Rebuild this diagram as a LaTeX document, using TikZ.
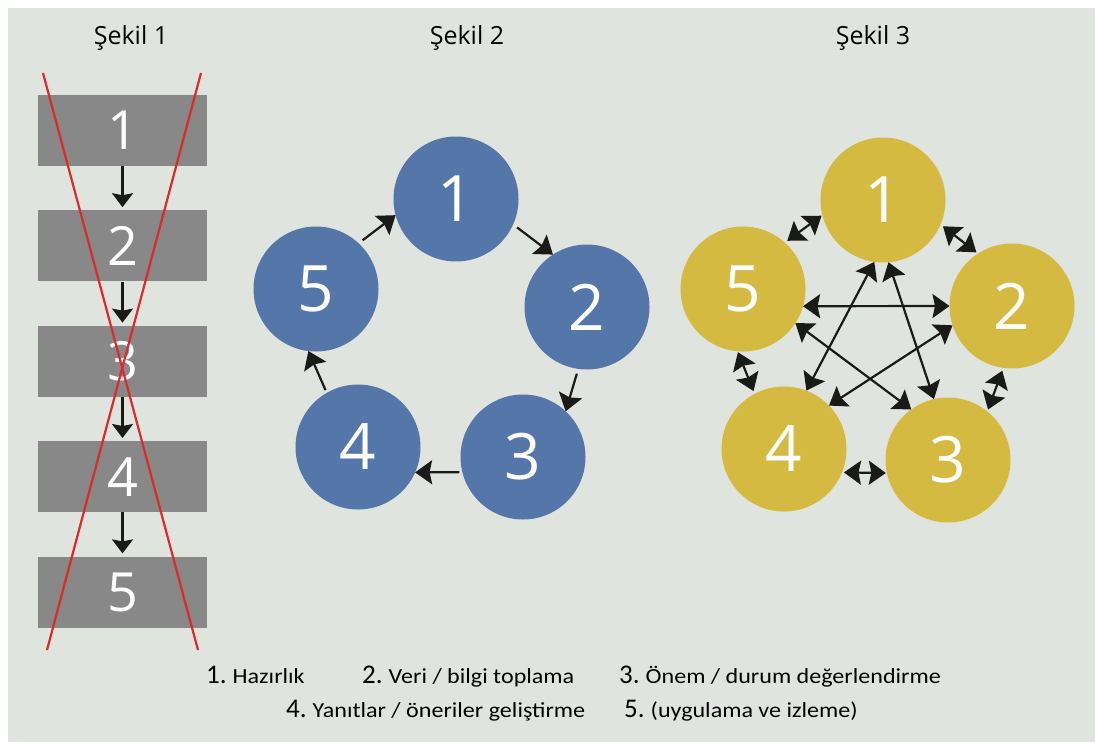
\documentclass[tikz,border=0pt]{standalone}
\usepackage{fontspec}
\setmainfont{Open Sans}
\newfontfamily\legfont{Carlito}[FakeStretch=1.12]
\newfontfamily\legnumfont{Carlito}
\usetikzlibrary{arrows.meta}

\definecolor{panel}{HTML}{E0E4DF}
\definecolor{stepgrey}{HTML}{888888}
\definecolor{blueblob}{HTML}{5576A8}
\definecolor{yellowblob}{HTML}{D4BA40}
\definecolor{crossred}{HTML}{DC2A2A}
\definecolor{ink}{HTML}{1A1A18}

\tikzset{
  stepbox/.style={rectangle, fill=stepgrey, minimum width=169pt, minimum height=71pt,
    inner sep=0pt, text=white, font=\fontsize{54}{54}\selectfont},
  blob/.style={circle, minimum size=125pt, inner sep=0pt, outer sep=0pt,
    text=white, font=\fontsize{64}{64}\selectfont},
  heading/.style={anchor=base, inner sep=0pt, font=\fontsize{25}{25}\selectfont},
  legend/.style={anchor=base west, inner sep=0pt, font=\legfont\fontsize{21.5}{21.5}\selectfont},
  down/.style={-{Stealth[width=21pt,length=14pt,inset=2pt]}, line width=2.2pt, draw=ink},
  flow/.style={-{Stealth[width=24pt,length=17pt,inset=2.5pt]}, line width=2.2pt, draw=ink},
  twoway/.style={{Stealth[width=24pt,length=17pt,inset=2.5pt]}-{Stealth[width=24pt,length=17pt,inset=2.5pt]},
    line width=2.2pt, draw=ink},
  redcross/.style={draw=crossred, line width=2.2pt}
}
\newcommand{\lnum}[1]{{\legnumfont\fontsize{27}{27}\selectfont #1}\hspace{6pt}}

\begin{document}
\begin{tikzpicture}[x=1pt, y=-1pt]
\useasboundingbox (0,0) rectangle (1095,742);
\fill[white] (0,0) rectangle (1095,742);
\fill[panel] (8,8) rectangle (1095,742);

\node[heading] (t1) at (131,44) {Şekil 1};
\node[heading] (t2) at (467,44) {Şekil 2};
\node[heading] (t3) at (873,44) {Şekil 3};

\node[stepbox] (s1) at (122.5,130.5) {1};
\node[stepbox] (s2) at (122.5,245.9) {2};
\node[stepbox] (s3) at (122.5,361.3) {3};
\node[stepbox] (s4) at (122.5,476.7) {4};
\node[stepbox] (s5) at (122.5,592.1) {5};
\foreach \a/\b in {s1/s2,s2/s3,s3/s4,s4/s5}
  \draw[down, shorten >=3pt] (\a) -- (\b);
\draw[redcross] (43,73) -- (198,650);
\draw[redcross] (201,73) -- (47,650);

\node[blob, fill=blueblob] (b1) at (456,199) {1};
\node[blob, fill=blueblob] (b2) at (587,307) {2};
\node[blob, fill=blueblob] (b3) at (523,457) {3};
\node[blob, fill=blueblob] (b4) at (358,447) {4};
\node[blob, fill=blueblob] (b5) at (316,289) {5};
\draw[flow, shorten <=5pt] (b5.47) -- (b1.195);
\draw[flow, shorten <=5pt] (b1.-24) -- (b2.123);
\draw[flow, shorten <=5pt] (b2.-98) -- (b3.47);
\draw[flow, shorten <=3pt] (b3.194) -- (b4.-24);
\draw[flow, shorten <=3pt] (b4.120) -- (b5.-97);

\node[blob, fill=yellowblob] (y1) at (883,200) {1};
\node[blob, fill=yellowblob] (y2) at (1012,306) {2};
\node[blob, fill=yellowblob] (y3) at (948,460) {3};
\node[blob, fill=yellowblob] (y4) at (784,449) {4};
\node[blob, fill=yellowblob] (y5) at (743,289) {5};
\draw[twoway, shorten <=3pt, shorten >=1pt] (y5.48) -- (y1.194);
\draw[twoway, shorten <=3pt, shorten >=2pt] (y1.-23) -- (y2.123);
\draw[twoway, shorten <=3pt, shorten >=2pt] (y2.-98) -- (y3.51);
\draw[twoway, shorten <=1pt, shorten >=2pt] (y3.192) -- (y4.-22);
\draw[twoway, shorten <=3pt, shorten >=1pt] (y4.118) -- (y5.-95);
\draw[twoway] (y5.-16) -- (y2.180);
\draw[twoway] (y1.-98) -- (y4.69);
\draw[twoway] (y1.-85) -- (y3.103);
\draw[twoway] (y5.-33) -- (y3.126);
\draw[twoway] (y2.198) -- (y4.44);

\node[legend] (l1) at (206,683) {\lnum{1.}Hazırlık};
\node[legend] (l2) at (362,683) {\lnum{2.}Veri / bilgi toplama};
\node[legend] (l3) at (619,683) {\lnum{3.}Önem / durum değerlendirme};
\node[legend] (l4) at (286,717) {\lnum{4.}Yanıtlar / öneriler geliştirme};
\node[legend] (l5) at (624,717) {\lnum{5.}(uygulama ve izleme)};
\end{tikzpicture}
\end{document}
